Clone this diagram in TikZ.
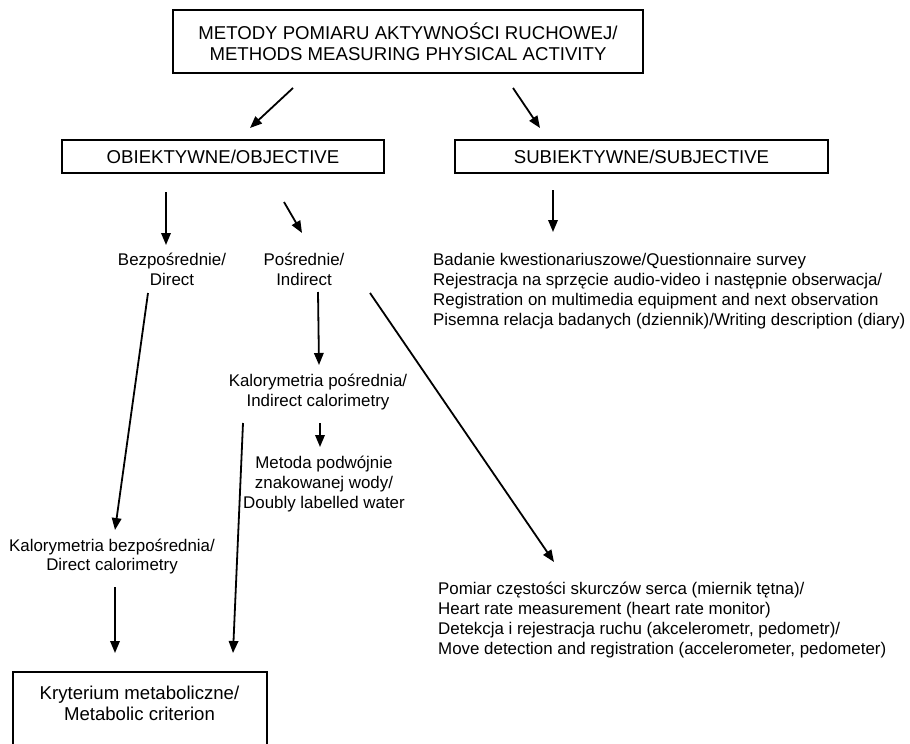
\documentclass[tikz,border=0pt]{standalone}
\usepackage{fontspec}
\setmainfont{Liberation Sans}
\usetikzlibrary{arrows.meta}
\begin{document}
\begin{tikzpicture}[x=1pt,y=-1pt,
  txt/.style={font=\fontsize{16.9}{19.8}\selectfont, inner sep=0pt},
  btxt/.style={font=\fontsize{18.6}{21.5}\selectfont, inner sep=0pt, align=center},
  boxed/.style={draw, line width=1.8pt, inner sep=0pt, font=\fontsize{18.6}{20.5}\selectfont, align=center},
  arr/.style={line width=1.8pt, -{Triangle[length=12pt,width=9.5pt]}}]
\useasboundingbox (0,0) rectangle (910,744);
\clip (0,0) rectangle (910,744);
\fill[white] (0,0) rectangle (910,744);

\node[boxed, minimum width=470pt, minimum height=62.5pt] (top) at (408,41.5) {METODY POMIARU AKTYWNOŚCI RUCHOWEJ/\\METHODS MEASURING PHYSICAL ACTIVITY};
\node[boxed, minimum width=322pt, minimum height=33pt] (obj) at (223,156.5) {OBIEKTYWNE/OBJECTIVE};
\node[boxed, minimum width=373pt, minimum height=33pt] (subj) at (641.5,156.5) {SUBIEKTYWNE/SUBJECTIVE};

\node[txt, align=center] (dir) at (172,269) {Bezpośrednie/\\Direct};
\node[txt, align=center] (ind) at (304,269) {Pośrednie/\\Indirect};
\node[txt, align=left, anchor=west] (sq) at (433,291) {Badanie kwestionariuszowe/Questionnaire survey\\Rejestracja na sprzęcie audio-video i następnie obserwacja/\\Registration on multimedia equipment and next observation\\Pisemna relacja badanych (dziennik)/Writing description (diary)};
\node[txt, align=center] (ical) at (318,392) {Kalorymetria pośrednia/\\Indirect calorimetry};
\node[txt, align=center] (dlw) at (324,484) {Metoda podwójnie\\znakowanej wody/\\Doubly labelled water};
\node[txt, align=center] (dcal) at (112,556.5) {Kalorymetria bezpośrednia/\\Direct calorimetry};
\node[txt, align=left, anchor=west] (hr) at (438,620) {Pomiar częstości skurczów serca (miernik tętna)/\\Heart rate measurement (heart rate monitor)\\Detekcja i rejestracja ruchu (akcelerometr, pedometr)/\\Move detection and registration (accelerometer, pedometer)};
\node[btxt] (krit) at (139.5,703.5) {Kryterium metaboliczne/\\Metabolic criterion};
\draw[line width=1.8pt] (13,672) rectangle (267,800);

\coordinate (t1) at (293,88);   \coordinate (t1e) at (250,128);
\coordinate (t2) at (513,88);   \coordinate (t2e) at (540,128);
\coordinate (o1) at (166,192);  \coordinate (o1e) at (166,245);
\coordinate (o2) at (284,202);  \coordinate (o2e) at (302,233);
\coordinate (s1) at (553,190);  \coordinate (s1e) at (553,232);
\coordinate (d1) at (148,293);  \coordinate (d1e) at (115,530);
\coordinate (i1) at (318,292);  \coordinate (i1e) at (319,365);
\coordinate (i2) at (370,293);  \coordinate (i2e) at (554,562);
\coordinate (c1) at (320,423);  \coordinate (c1e) at (320,447);
\coordinate (k1) at (243,423);  \coordinate (k1e) at (233,653);
\coordinate (b1) at (115,587);  \coordinate (b1e) at (115,653);

\draw[arr] (t1) -- (t1e);
\draw[arr] (t2) -- (t2e);
\draw[arr] (o1) -- (o1e);
\draw[arr] (o2) -- (o2e);
\draw[arr] (s1) -- (s1e);
\draw[arr] (d1) -- (d1e);
\draw[arr] (i1) -- (i1e);
\draw[arr] (i2) -- (i2e);
\draw[arr] (c1) -- (c1e);
\draw[arr] (k1) -- (k1e);
\draw[arr] (b1) -- (b1e);
\end{tikzpicture}
\end{document}
